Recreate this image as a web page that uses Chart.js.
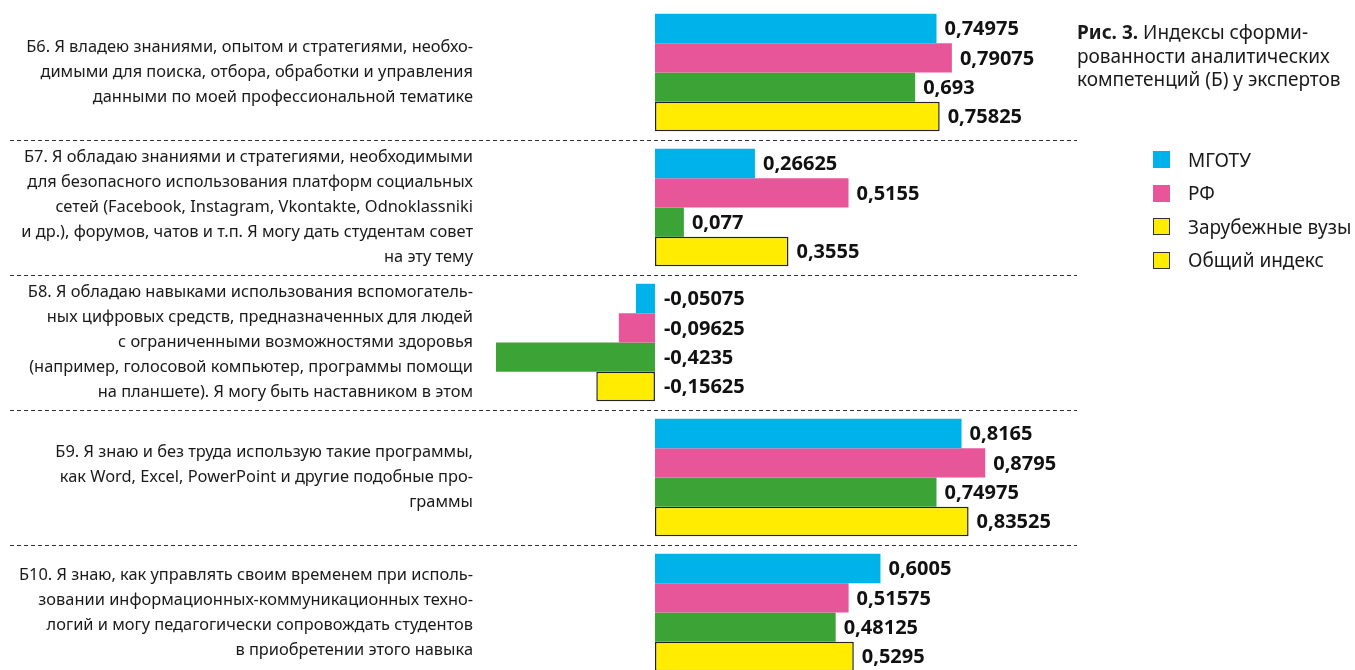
<!DOCTYPE html>
<html lang="ru">
<head>
<meta charset="utf-8">
<script src="https://cdn.jsdelivr.net/npm/chart.js@4/dist/chart.umd.min.js"></script>
<style>
    html, body { margin: 0; padding: 0; background: #fff; overflow: hidden; }
    body { width: 1355px; height: 670px; position: relative; font-family: "Noto Sans", sans-serif; color: #1a1a1a; }
    #wrap { position: absolute; left: 0; top: 0; width: 1355px; height: 685px; }
    .caption { position: absolute; left: 1077px; top: 21px; font-size: 19px; line-height: 23.5px; }
    .caption b { font-weight: bold; }
    .legend { position: absolute; left: 1153px; top: 143px; font-size: 19px; }
    .legend div { height: 33.5px; display: flex; align-items: center; }
    .legend span.box { display: inline-block; width: 17px; height: 17px; margin-right: 18px; box-sizing: border-box; }
</style>
</head>
<body>
<div id="wrap"><canvas id="chart"></canvas></div>
<div class="caption"><b>Рис. 3.</b> Индексы сформи-<br>рованности аналитических<br>компетенций (Б) у экспертов</div>
<div class="legend" id="legend"></div>
<script>
// Categories (multi-line labels)
const categories = [
    ["Б6. Я владею знаниями, опытом и стратегиями, необхо-", "димыми для поиска, отбора, обработки и управления", "данными по моей профессиональной тематике"],
    ["Б7. Я обладаю знаниями и стратегиями, необходимыми", "для безопасного использования платформ социальных", "сетей (Facebook, Instagram, Vkontakte, Odnoklassniki", "и др.), форумов, чатов и т.п. Я могу дать студентам совет", "на эту тему"],
    ["Б8. Я обладаю навыками использования вспомогатель-", "ных цифровых средств, предназначенных для людей", "с ограниченными возможностями здоровья", "(например, голосовой компьютер, программы помощи", "на планшете). Я могу быть наставником в этом"],
    ["Б9. Я знаю и без труда использую такие программы,", "как Word, Excel, PowerPoint и другие подобные про-", "граммы"],
    ["Б10. Я знаю, как управлять своим временем при исполь-", "зовании информационных-коммуникационных техно-", "логий и могу педагогически сопровождать студентов", "в приобретении этого навыка"]
];

const seriesNames = ["МГОТУ", "РФ", "Зарубежные вузы", "Общий индекс"];

const mgotu = [0.74975, 0.26625, -0.05075, 0.8165, 0.6005];
const rf = [0.79075, 0.5155, -0.09625, 0.8795, 0.51575];
const foreign = [0.693, 0.077, -0.4235, 0.74975, 0.48125];
const overall = [0.75825, 0.3555, -0.15625, 0.83525, 0.5295];

const colors = ["#00b2ea", "#e8569a", "#3ca336", "#ffec00"];
// legend swatches as printed in the figure
const legendColors = ["#00b2ea", "#e8569a", "#ffec00", "#ffec00"];
const legendBorders = [false, false, true, true];

// Legend
const legendEl = document.getElementById("legend");
seriesNames.forEach((name, i) => {
    const row = document.createElement("div");
    const box = document.createElement("span");
    box.className = "box";
    box.style.background = legendColors[i];
    if (legendBorders[i]) box.style.border = "1.5px solid #333";
    row.appendChild(box);
    row.appendChild(document.createTextNode(name));
    legendEl.appendChild(row);
});

function fmt(v) {
    return String(v).replace(".", ",");
}

// value labels next to the bars
const valueLabels = {
    id: "valueLabels",
    afterDatasetsDraw(chart) {
        const ctx = chart.ctx;
        ctx.save();
        ctx.font = "bold 20px 'Noto Sans'";
        ctx.fillStyle = "#111";
        ctx.textAlign = "left";
        ctx.textBaseline = "middle";
        chart.data.datasets.forEach((ds, di) => {
            const meta = chart.getDatasetMeta(di);
            meta.data.forEach((bar, i) => {
                const v = ds.data[i];
                const x = v >= 0 ? bar.x + 8 : bar.base + 9;
                ctx.fillText(fmt(v), x, bar.y + 1);
            });
        });
        ctx.restore();
    }
};

// dashed separators between categories
const separators = {
    id: "separators",
    beforeDatasetsDraw(chart) {
        const y = chart.scales.y;
        const ctx = chart.ctx;
        ctx.save();
        ctx.strokeStyle = "#333";
        ctx.lineWidth = 1;
        ctx.setLineDash([4, 3]);
        for (let i = 0; i < categories.length - 1; i++) {
            const py = Math.round((y.getPixelForTick(i) + y.getPixelForTick(i + 1)) / 2) + 0.5;
            ctx.beginPath();
            ctx.moveTo(10, py);
            ctx.lineTo(1077, py);
            ctx.stroke();
        }
        ctx.restore();
    }
};

const datasets = [mgotu, rf, foreign, overall].map((data, i) => ({
    label: seriesNames[i],
    data: data,
    backgroundColor: colors[i],
    borderColor: i === 3 ? "#222" : colors[i],
    borderWidth: i === 3 ? 1.5 : 0,
    borderSkipped: false,
    barPercentage: 1.0,
    categoryPercentage: 0.87
}));

new Chart(document.getElementById("chart"), {
    type: "bar",
    data: { labels: categories, datasets: datasets },
    options: {
        indexAxis: "y",
        responsive: true,
        maintainAspectRatio: false,
        animation: false,
        layout: { padding: { top: 5, bottom: 5, right: 287, left: 0 } },
        plugins: {
            legend: { display: false },
            tooltip: { enabled: false }
        },
        scales: {
            x: {
                display: false,
                min: -0.45,
                max: 1.1
            },
            y: {
                grid: { display: false, drawTicks: false },
                border: { display: false },
                ticks: {
                    color: "#1a1a1a",
                    padding: 13,
                    font: { family: "Noto Sans", size: 16.4, lineHeight: 1.52 },
                    crossAlign: "near"
                },
                afterFit(scale) {
                    scale.width = 486;
                    scale.paddingTop = 0;
                    scale.paddingBottom = 0;
                }
            }
        }
    },
    plugins: [separators, valueLabels]
});
</script>
</body>
</html>
